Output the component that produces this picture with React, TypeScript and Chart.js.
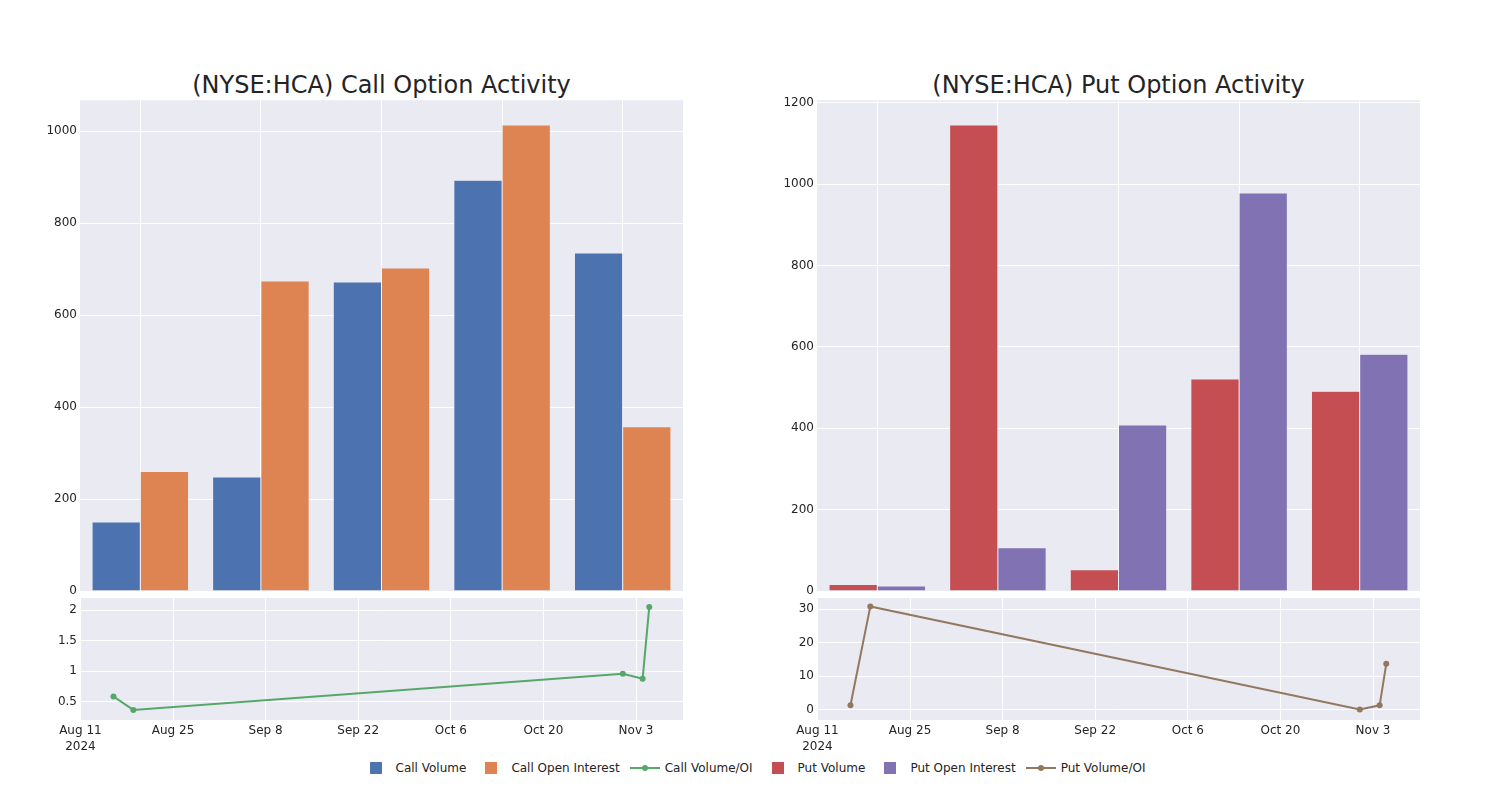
import React, { useEffect, useRef } from 'react';
import { Chart, registerables } from 'chart.js';

Chart.register(...registerables);

// ---------- data ----------
const tradeDates = ['2024-08-16', '2024-08-19', '2024-11-01', '2024-11-04', '2024-11-05'];
const callVolume = [150, 248, 672, 893, 735];
const callOpenInterest = [260, 674, 702, 1013, 357];
const callVolOI = [0.59, 0.37, 0.96, 0.88, 2.05];
const putVolume = [16, 1145, 52, 521, 491];
const putOpenInterest = [12, 106, 408, 978, 582];
const putVolOI = [1.37, 30.8, 0.1, 1.37, 13.7];

const axisStartDate = '2024-08-11';
const dateTickDays = [0, 14, 28, 42, 56, 70, 84];
const callBarTicks = [0, 200, 400, 600, 800, 1000];
const putBarTicks = [0, 200, 400, 600, 800, 1000, 1200];
const callRatioTicks = [0.5, 1, 1.5, 2];
const putRatioTicks = [0, 10, 20, 30];

const COLORS = {
  callVolume: '#4C72B0',
  callOI: '#DD8452',
  callRatio: '#55A868',
  putVolume: '#C44E52',
  putOI: '#8172B3',
  putRatio: '#937860',
  plotBg: '#EAEAF2',
  text: '#242424',
};

const FONT = 'DejaVu Sans';
const MONTHS = ['Jan', 'Feb', 'Mar', 'Apr', 'May', 'Jun', 'Jul', 'Aug', 'Sep', 'Oct', 'Nov', 'Dec'];
const DAY_MS = 86400000;

function dayNumber(d: string): number {
  return (Date.parse(d + 'T00:00:00Z') - Date.parse(axisStartDate + 'T00:00:00Z')) / DAY_MS;
}

function dayLabel(v: number): string | string[] {
  const dt = new Date(Date.parse(axisStartDate + 'T00:00:00Z') + v * DAY_MS);
  const s = MONTHS[dt.getUTCMonth()] + ' ' + dt.getUTCDate();
  return v === 0 ? [s, String(dt.getUTCFullYear())] : s;
}

const bgPlugin = {
  id: 'plotBg',
  beforeDraw(chart: any) {
    const { ctx, chartArea } = chart;
    if (!chartArea) return;
    ctx.save();
    ctx.fillStyle = COLORS.plotBg;
    ctx.fillRect(chartArea.left, chartArea.top, chartArea.right - chartArea.left, chartArea.bottom - chartArea.top);
    ctx.restore();
  },
};

const tickFont = { family: FONT, size: 12 };
const plainNumber = (v: number) => String(v);

function barConfig(volume: number[], oi: number[], volLabel: string, oiLabel: string, volColor: string, oiColor: string, yMax: number, yTicks: number[]) {
  return {
    type: 'bar',
    data: {
      labels: tradeDates,
      datasets: [
        { label: volLabel, data: volume, backgroundColor: volColor, borderColor: COLORS.plotBg, borderWidth: 0.5, categoryPercentage: 0.8, barPercentage: 1.0 },
        { label: oiLabel, data: oi, backgroundColor: oiColor, borderColor: COLORS.plotBg, borderWidth: 0.5, categoryPercentage: 0.8, barPercentage: 1.0 },
      ],
    },
    options: {
      responsive: false,
      animation: false,
      layout: { padding: { left: 0, top: 10, right: 17, bottom: 14 } },
      plugins: { legend: { display: false }, tooltip: { enabled: false }, title: { display: false } },
      scales: {
        x: {
          type: 'category',
          offset: true,
          grid: { color: '#ffffff', lineWidth: 1, offset: false, drawTicks: false },
          border: { display: false },
          ticks: { display: false },
          afterFit: (s: any) => { s.height = 0; },
        },
        y: {
          min: 0,
          max: yMax,
          grid: { color: '#ffffff', lineWidth: 1, drawTicks: false },
          border: { display: false },
          ticks: { font: tickFont, color: COLORS.text, padding: 3, callback: plainNumber },
          afterBuildTicks: (s: any) => { s.ticks = yTicks.map((v) => ({ value: v })); },
          afterFit: (s: any) => { s.width = 80; },
        },
      },
    },
    plugins: [bgPlugin],
  };
}

function lineConfig(values: number[], label: string, color: string, yMin: number, yMax: number, yTicks: number[]) {
  return {
    type: 'line',
    data: {
      datasets: [
        {
          label,
          data: tradeDates.map((d, i) => ({ x: dayNumber(d), y: values[i] })),
          borderColor: color,
          backgroundColor: color,
          borderWidth: 2,
          pointRadius: 3,
          pointBorderWidth: 0,
          tension: 0,
        },
      ],
    },
    options: {
      responsive: false,
      animation: false,
      layout: { padding: { left: 0, top: 20, right: 17, bottom: 0 } },
      plugins: { legend: { display: false }, tooltip: { enabled: false }, title: { display: false } },
      scales: {
        x: {
          type: 'linear',
          min: -0.06,
          max: 91.1,
          grid: { color: '#ffffff', lineWidth: 1, drawTicks: false },
          border: { display: false },
          ticks: { font: { family: FONT, size: 12, lineHeight: 1.4 }, color: COLORS.text, padding: 2, maxRotation: 0, autoSkip: false, callback: (v: number) => dayLabel(v) },
          afterBuildTicks: (s: any) => { s.ticks = dateTickDays.map((v) => ({ value: v })); },
          afterFit: (s: any) => { s.height = 40; },
        },
        y: {
          min: yMin,
          max: yMax,
          grid: { color: '#ffffff', lineWidth: 1, drawTicks: false },
          border: { display: false },
          ticks: { font: tickFont, color: COLORS.text, padding: 3, callback: plainNumber },
          afterBuildTicks: (s: any) => { s.ticks = yTicks.map((v) => ({ value: v })); },
          afterFit: (s: any) => { s.width = 80; },
        },
      },
    },
    plugins: [bgPlugin],
  };
}

function ChartBox({ config, left, top, width, height }: { config: any; left: number; top: number; width: number; height: number }) {
  const ref = useRef<HTMLCanvasElement | null>(null);
  useEffect(() => {
    if (!ref.current) return;
    const chart = new Chart(ref.current, config);
    return () => chart.destroy();
  }, []);
  return (
    <canvas
      ref={ref}
      width={width}
      height={height}
      style={{ position: 'absolute', left, top, width, height }}
    />
  );
}

function LegendItem({ label, color, kind }: { label: string; color: string; kind: 'square' | 'line' }) {
  return (
    <div style={{ display: 'flex', alignItems: 'center', marginRight: 5 }}>
      <div style={{ width: 40, height: 16, position: 'relative' }}>
        {kind === 'square' ? (
          <div style={{ position: 'absolute', left: 14, top: 2, width: 12, height: 12, background: color }} />
        ) : (
          <>
            <div style={{ position: 'absolute', left: 5, top: 7, width: 30, height: 2, background: color }} />
            <div style={{ position: 'absolute', left: 17, top: 5, width: 6, height: 6, borderRadius: 3, background: color }} />
          </>
        )}
      </div>
      <span style={{ fontFamily: FONT, fontSize: 12, color: COLORS.text, whiteSpace: 'nowrap' }}>{label}</span>
    </div>
  );
}

export default function App() {
  const titleStyle = (left: number): React.CSSProperties => ({
    position: 'absolute',
    left,
    top: 70,
    width: 603,
    height: 30,
    lineHeight: '30px',
    textAlign: 'center',
    fontFamily: FONT,
    fontSize: 24,
    color: COLORS.text,
    whiteSpace: 'nowrap',
  });
  return (
    <div style={{ position: 'absolute', left: 0, top: 0, width: 1500, height: 800, background: '#ffffff', overflow: 'hidden' }}>
      <div style={titleStyle(80)}>(NYSE:HCA) Call Option Activity</div>
      <div style={titleStyle(817)}>(NYSE:HCA) Put Option Activity</div>
      <ChartBox
        config={barConfig(callVolume, callOpenInterest, 'Call Volume', 'Call Open Interest', COLORS.callVolume, COLORS.callOI, 1067, callBarTicks)}
        left={0} top={90} width={700} height={515}
      />
      <ChartBox
        config={lineConfig(callVolOI, 'Call Volume/OI', COLORS.callRatio, 0.206, 2.196, callRatioTicks)}
        left={0} top={578} width={700} height={182}
      />
      <ChartBox
        config={barConfig(putVolume, putOpenInterest, 'Put Volume', 'Put Open Interest', COLORS.putVolume, COLORS.putOI, 1206, putBarTicks)}
        left={737} top={90} width={700} height={515}
      />
      <ChartBox
        config={lineConfig(putVolOI, 'Put Volume/OI', COLORS.putRatio, -3.0, 33.3, putRatioTicks)}
        left={737} top={578} width={700} height={182}
      />
      <div style={{ position: 'absolute', left: 3, top: 760, width: 1500, height: 16, display: 'flex', justifyContent: 'center', alignItems: 'center' }}>
        <LegendItem label="Call Volume" color={COLORS.callVolume} kind="square" />
        <LegendItem label="Call Open Interest" color={COLORS.callOI} kind="square" />
        <LegendItem label="Call Volume/OI" color={COLORS.callRatio} kind="line" />
        <LegendItem label="Put Volume" color={COLORS.putVolume} kind="square" />
        <LegendItem label="Put Open Interest" color={COLORS.putOI} kind="square" />
        <LegendItem label="Put Volume/OI" color={COLORS.putRatio} kind="line" />
      </div>
    </div>
  );
}
